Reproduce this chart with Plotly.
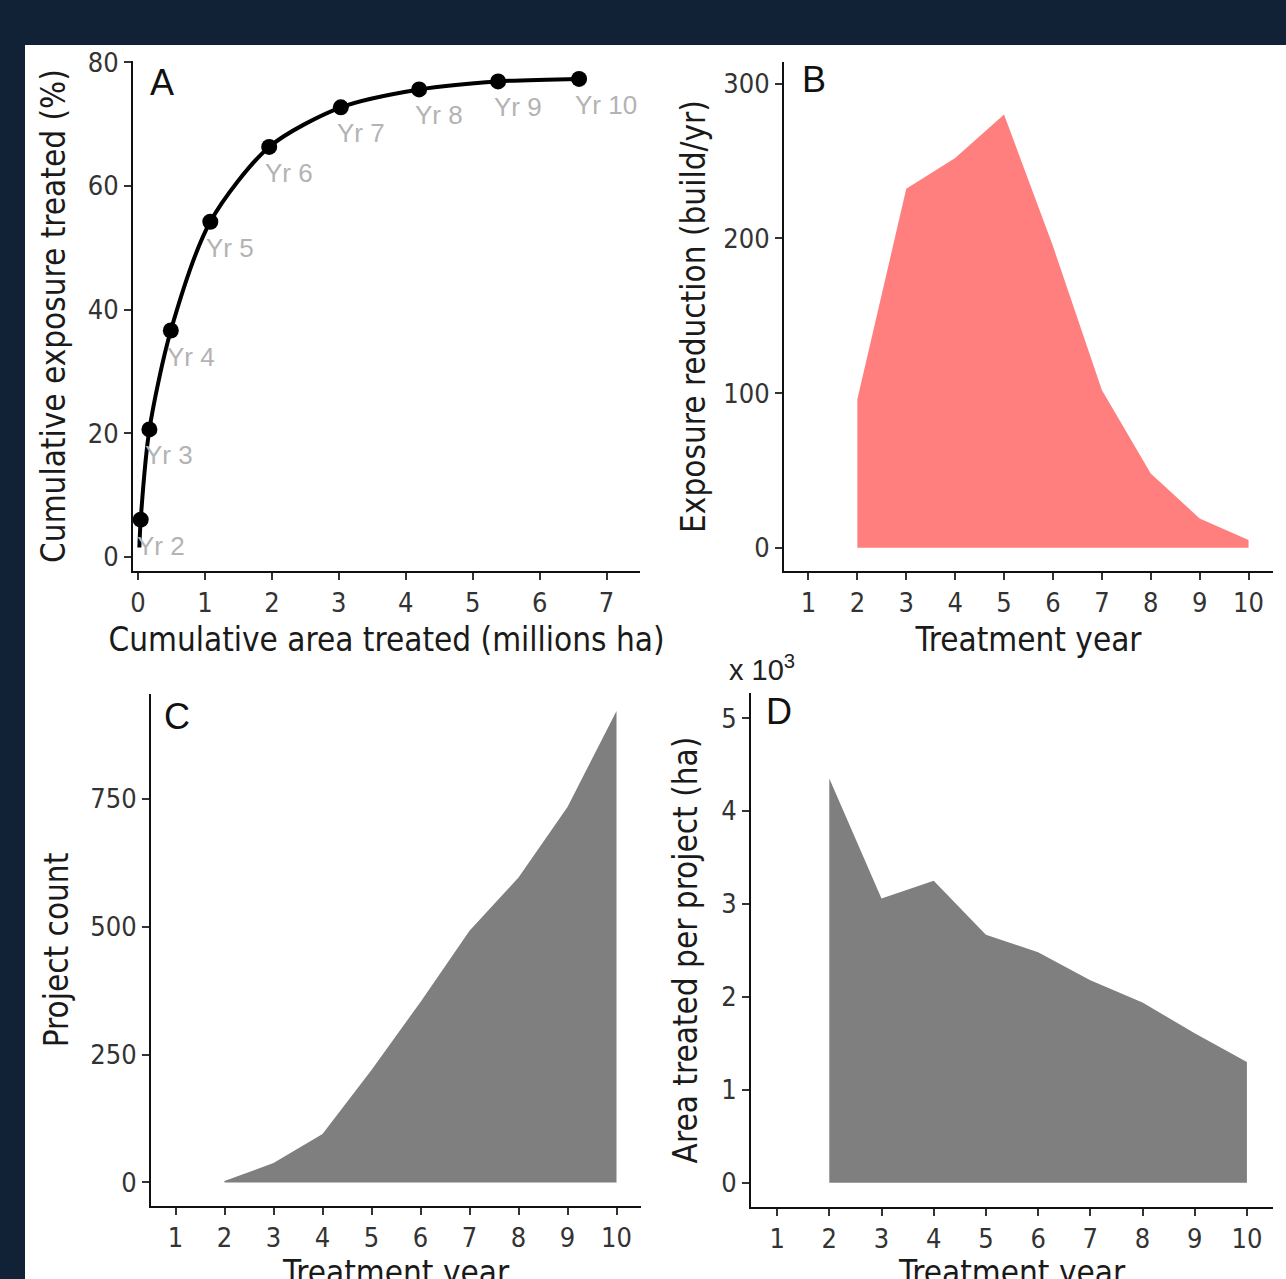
import plotly.graph_objects as go

W, H = 1286, 1279

# ---------------- data ----------------
# Panel A: cumulative curve
a_labels = ["Yr 2", "Yr 3", "Yr 4", "Yr 5", "Yr 6", "Yr 7", "Yr 8", "Yr 9", "Yr 10"]
a_area = [0.04, 0.17, 0.49, 1.08, 1.96, 3.03, 4.2, 5.38, 6.59]        # millions ha
a_exposure = [6.0, 20.6, 36.6, 54.2, 66.3, 72.7, 75.6, 76.9, 77.3]    # %
a_start_area = 0.02
a_start_exposure = 1.5

# Panels B-D: by treatment year
years = [2, 3, 4, 5, 6, 7, 8, 9, 10]
b_reduction = [96, 232, 252, 280, 195, 102, 48, 19, 5]                 # build/yr
c_count = [3, 38, 95, 220, 353, 492, 596, 734, 922]                    # projects
d_area_per_project = [4350, 3060, 3250, 2670, 2480, 2180, 1940, 1610, 1300]  # ha

year_ticks = [1, 2, 3, 4, 5, 6, 7, 8, 9, 10]

# ---------------- styling ----------------
BG = "#112236"
TICKFONT = dict(family="DejaVu Sans Condensed, DejaVu Sans", size=27, color="#333333")
TITLEFONT = dict(family="DejaVu Sans Condensed, DejaVu Sans", size=33, color="#1a1a1a")
LETTERFONT = dict(family="Liberation Sans, Arial", size=36, color="#111111")


def dom_x(p0, p1):
    return [p0 / W, p1 / W]


def dom_y(top, bottom):
    return [1 - bottom / H, 1 - top / H]


common = dict(showline=True, linecolor="#111111", linewidth=2, ticks="outside",
              ticklen=7, tickwidth=1.6, tickcolor="#333333", showgrid=False,
              zeroline=False, tickfont=TICKFONT, mirror=False, automargin=False)

fig = go.Figure()

# Panel A
fig.add_trace(go.Scatter(x=[a_start_area] + a_area, y=[a_start_exposure] + a_exposure,
                         mode="lines", line=dict(color="black", width=4, shape="spline", smoothing=0.8),
                         xaxis="x", yaxis="y", showlegend=False, hoverinfo="skip"))
fig.add_trace(go.Scatter(x=a_area, y=a_exposure, mode="markers",
                         marker=dict(color="black", size=16), xaxis="x", yaxis="y",
                         showlegend=False, text=a_labels))

# Panel B
fig.add_trace(go.Scatter(x=years, y=b_reduction, mode="lines", fill="tozeroy",
                         fillcolor="#FF7F7F", line=dict(width=0, color="#FF7F7F"),
                         xaxis="x2", yaxis="y2", showlegend=False))
# Panel C
fig.add_trace(go.Scatter(x=years, y=c_count, mode="lines", fill="tozeroy",
                         fillcolor="#7F7F7F", line=dict(width=0, color="#7F7F7F"),
                         xaxis="x3", yaxis="y3", showlegend=False))
# Panel D (thousands of ha)
fig.add_trace(go.Scatter(x=years, y=[v / 1000 for v in d_area_per_project], mode="lines",
                         fill="tozeroy", fillcolor="#7F7F7F", line=dict(width=0, color="#7F7F7F"),
                         xaxis="x4", yaxis="y4", showlegend=False))

annotations = []
for lab, xv, yv in zip(a_labels, a_area, a_exposure):
    annotations.append(dict(x=xv, y=yv, xref="x", yref="y", text=lab, showarrow=False,
                            xanchor="left", yanchor="middle", xshift=-6, yshift=-26,
                            font=dict(family="Liberation Sans, Arial", size=26, color="#b3b3b3")))

for letter, px, py in [("A", 148, 83), ("B", 800, 79), ("C", 162, 716), ("D", 764, 711)]:
    annotations.append(dict(x=px / W, y=1 - py / H, xref="paper", yref="paper", text=letter,
                            showarrow=False, xanchor="left", yanchor="middle", font=LETTERFONT))

annotations.append(dict(x=727 / W, y=1 - 668 / H, xref="paper", yref="paper",
                        text="x 10<sup>3</sup>", showarrow=False, xanchor="left", yanchor="middle",
                        font=dict(family="Liberation Sans, Arial", size=29, color="#222222")))

# bottom-row x-axis titles (they run off the bottom edge, as in the original)
for cx in [(151 + 641) / 2, (751 + 1273) / 2]:
    annotations.append(dict(x=cx / W, y=1 - 1251 / H, xref="paper", yref="paper",
                            text="Treatment year", showarrow=False, xanchor="center",
                            yanchor="top", font=TITLEFONT))

fig.update_layout(
    width=W, height=H,
    margin=dict(l=0, r=0, t=0, b=0, autoexpand=False),
    paper_bgcolor=BG,
    plot_bgcolor="rgba(0,0,0,0)",
    showlegend=False,
    shapes=[dict(type="rect", xref="paper", yref="paper", x0=25 / W, x1=1.0, y0=0, y1=1 - 45 / H,
                 fillcolor="white", line=dict(width=0), layer="below")],
    annotations=annotations,
    xaxis=dict(domain=dom_x(133, 640), anchor="y", range=[-0.075, 7.5],
               tickvals=[0, 1, 2, 3, 4, 5, 6, 7],
               title=dict(text="Cumulative area treated (millions ha)", font=TITLEFONT, standoff=10),
               **common),
    yaxis=dict(domain=dom_y(61, 571), anchor="x", range=[-2.3, 80.2],
               tickvals=[0, 20, 40, 60, 80],
               title=dict(text="Cumulative exposure treated (%)", font=TITLEFONT, standoff=12),
               **common),
    xaxis2=dict(domain=dom_x(784, 1273), anchor="y2", range=[0.5, 10.5], tickvals=year_ticks,
                title=dict(text="Treatment year", font=TITLEFONT, standoff=10), **common),
    yaxis2=dict(domain=dom_y(62, 571), anchor="x2", range=[-15, 314],
                tickvals=[0, 100, 200, 300],
                title=dict(text="Exposure reduction (build/yr)", font=TITLEFONT, standoff=8),
                **common),
    xaxis3=dict(domain=dom_x(151, 641), anchor="y3", range=[0.5, 10.5], tickvals=year_ticks,
                **common),
    yaxis3=dict(domain=dom_y(694, 1206), anchor="x3", range=[-46, 955],
                tickvals=[0, 250, 500, 750],
                title=dict(text="Project count", font=TITLEFONT, standoff=12), **common),
    xaxis4=dict(domain=dom_x(751, 1273), anchor="y4", range=[0.5, 10.5], tickvals=year_ticks,
                **common),
    yaxis4=dict(domain=dom_y(693, 1207), anchor="x4", range=[-0.26, 5.27],
                tickvals=[0, 1, 2, 3, 4, 5],
                title=dict(text="Area treated per project (ha)", font=TITLEFONT, standoff=14),
                **common),
)

fig.write_html("out.html", config={"displayModeBar": False},
               post_script="document.body.style.margin='0';document.body.style.background='%s';" % BG)
